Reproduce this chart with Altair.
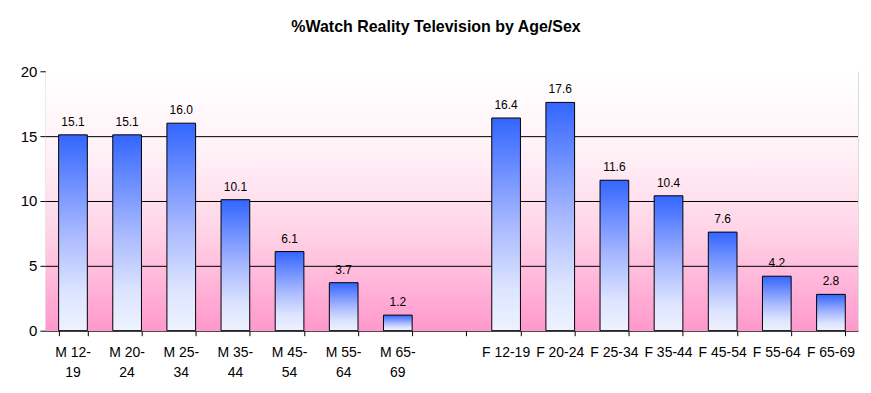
import altair as alt
import pandas as pd

categories = ["M 12-19", "M 20-24", "M 25-34", "M 35-44", "M 45-54", "M 55-64", "M 65-69", " ",
              "F 12-19", "F 20-24", "F 25-34", "F 35-44", "F 45-54", "F 55-64", "F 65-69"]
tick_labels = ["M 12-\n19", "M 20-\n24", "M 25-\n34", "M 35-\n44", "M 45-\n54", "M 55-\n64", "M 65-\n69", "",
               "F 12-19", "F 20-24", "F 25-34", "F 35-44", "F 45-54", "F 55-64", "F 65-69"]
values = [15.1, 15.1, 16.0, 10.1, 6.1, 3.7, 1.2, None,
          16.4, 17.6, 11.6, 10.4, 7.6, 4.2, 2.8]
y_ticks = [0, 5, 10, 15, 20]
grid_values = [5, 10, 15]

df = pd.DataFrame({"cat": categories, "val": values, "lab": tick_labels})
bars_df = df.dropna()
grid_df = pd.DataFrame({"g": grid_values})

FONT = "Liberation Sans"

x_scale = alt.Scale(domain=categories, paddingInner=0.47, paddingOuter=0.235)
x_enc = alt.X("cat:N", sort=categories, scale=x_scale,
              axis=alt.Axis(title=None, labels=False, tickBand="extent",
                            tickSize=5, tickColor="#000000", domainColor="#000000"))

y_scale = alt.Scale(domain=[0, 20], nice=False)

bg = alt.Chart(grid_df).mark_rect(
    fill=alt.Gradient(gradient="linear", x1=0, y1=0, x2=0, y2=1,
                      stops=[alt.GradientStop(color="#FFFFFF", offset=0),
                             alt.GradientStop(color="#FFF2F7", offset=0.3),
                             alt.GradientStop(color="#FFD6E8", offset=0.6),
                             alt.GradientStop(color="#FF99CC", offset=1)])
).encode(x=alt.value(0), x2=alt.value("width"), y=alt.value(0), y2=alt.value("height"))

grid = alt.Chart(grid_df).mark_rule(color="#000000", strokeWidth=1, yOffset=0.5).encode(
    y=alt.Y("g:Q", scale=y_scale)
)

bars = alt.Chart(bars_df).mark_bar(
    stroke="#000000", strokeWidth=1,
    fill=alt.Gradient(gradient="linear", x1=0, y1=0, x2=0, y2=1,
                      stops=[alt.GradientStop(color="#3366FF", offset=0),
                             alt.GradientStop(color="#A8B8FF", offset=0.5),
                             alt.GradientStop(color="#DCE4FF", offset=0.8),
                             alt.GradientStop(color="#EEF2FF", offset=1)])
).encode(
    x=x_enc,
    y=alt.Y("val:Q", scale=y_scale,
            axis=alt.Axis(title=None, values=y_ticks, grid=False,
                          labelFontSize=15, labelFont=FONT, labelColor="#000000",
                          tickSize=6, tickColor="#000000", domainColor="#000000", labelPadding=3)),
)

labels = alt.Chart(bars_df).mark_text(
    baseline="bottom", dy=-6, fontSize=12, font=FONT, color="#000000"
).encode(
    x=alt.X("cat:N", sort=categories),
    y=alt.Y("val:Q", scale=y_scale),
    text=alt.Text("val:Q", format=".1f"),
)

xlabels = alt.Chart(df).mark_text(
    baseline="top", align="center", dy=15, fontSize=14, font=FONT, color="#000000",
    lineBreak="\n", lineHeight=20
).encode(
    x=alt.X("cat:N", sort=categories),
    y=alt.datum(0, scale=y_scale),
    text="lab:N",
)

chart = alt.layer(bg, grid, bars, labels, xlabels).properties(
    width=814, height=260,
    title=alt.TitleParams("%Watch Reality Television by Age/Sex", font=FONT, fontSize=16,
                          fontWeight="bold", color="#000000", anchor="middle", offset=29, dx=-16),
    autosize=alt.AutoSizeParams(type="none"),
    padding={"left": 38, "top": 63, "right": 5, "bottom": 55},
).configure_view(stroke="#808080", strokeWidth=1).configure(background="#FFFFFF")

chart.save("out.html", embed_options={"renderer": "svg", "actions": False})
